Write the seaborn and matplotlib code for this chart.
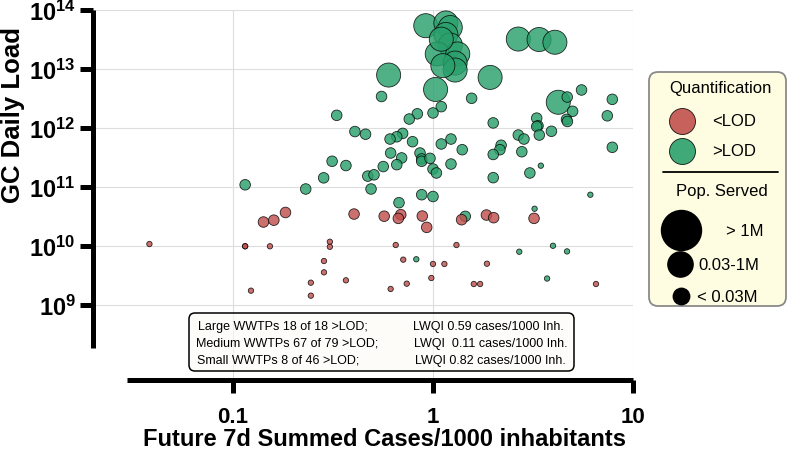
import numpy as np
import pandas as pd
import matplotlib
matplotlib.use("Agg")
import matplotlib.pyplot as plt
import seaborn as sns
from matplotlib.patches import FancyBboxPatch
from matplotlib.ticker import FixedLocator, FuncFormatter, NullLocator

# ---- data (cases/1000 inh., GC daily load) ----
large_x = [0.92, 1.16, 1.22, 1.16, 1.22, 1.05, 1.33, 1.29, 1.29, 0.60, 1.03, 1.93,
           2.67, 3.39, 4.07, 4.23, 1.12, 1.10]
large_y = [5.42e13, 6.03e13, 5.05e13, 3.85e13, 2.55e13, 1.80e13, 1.80e13, 1.26e13, 9.6e12,
           7.9e12, 4.5e12, 7.2e12, 3.22e13, 3.16e13, 2.84e13, 2.73e12, 1.14e13, 3.2e13]

med_green_x = [0.115, 0.553, 0.330, 0.407, 0.460, 0.313, 0.367, 0.284, 0.231, 0.472,
               0.507, 0.490, 0.564, 1.56, 1.10, 1.00, 0.835, 0.761, 2.00, 5.53,
               4.69, 4.99, 4.65, 4.70, 7.88, 7.44, 3.30, 3.35, 3.30, 3.91,
               3.40, 2.67, 2.85, 7.88, 2.19, 2.16, 2.00, 2.78, 3.05, 2.00,
               1.40, 1.23, 1.10, 1.23, 0.790, 0.705, 0.659, 0.610, 0.614, 0.697,
               0.659, 0.861, 0.878, 0.878, 0.966, 1.00, 1.04, 0.878, 1.00, 0.676,
               1.45]
med_green_y = [1.09e11, 3.42e12, 1.64e12, 8.7e11, 7.85e11, 2.73e11, 2.31e11, 1.43e11, 9.25e10, 1.53e11,
               1.61e11, 9.25e10, 2.22e11, 3.19e12, 2.30e12, 1.80e12, 1.74e12, 1.42e12, 1.22e12, 4.41e12,
               3.35e12, 1.92e12, 1.40e12, 1.29e12, 3.06e12, 1.61e12, 1.47e12, 1.09e12, 1.06e12, 8.8e11,
               7.6e11, 7.6e11, 6.5e11, 4.71e11, 5.1e11, 4.29e11, 3.56e11, 3.96e11, 1.73e11, 1.44e11,
               4.29e11, 6.5e11, 5.36e11, 2.45e11, 5.86e11, 8.1e11, 7.1e11, 6.5e11, 3.77e11, 3.11e11,
               2.39e11, 3.77e11, 2.99e11, 2.73e11, 3.06e11, 2.02e11, 1.73e11, 7.4e10, 6.9e10, 5.42e10,
               3.18e10]

med_red_x = [0.142, 0.160, 0.183, 0.403, 0.570, 0.690, 0.671, 0.884, 0.930, 1.39, 1.85, 2.01, 3.20]
med_red_y = [2.55e10, 2.74e10, 3.70e10, 3.48e10, 3.20e10, 3.40e10, 2.94e10, 3.22e10, 2.07e10,
             2.79e10, 3.35e10, 3.02e10, 2.94e10]

small_green_x = [3.46, 6.12, 3.22, 0.825, 2.70, 3.98, 4.68, 3.72]
small_green_y = [2.30e11, 7.4e10, 4.28e10, 5.96e9, 8.0e9, 1.01e10, 8.1e9, 2.81e9]

small_red_x = [0.0382, 0.115, 0.115, 0.153, 0.305, 0.305, 0.285, 0.285, 0.367, 0.245, 0.123, 0.245,
               0.651, 1.31, 0.710, 1.00, 1.14, 1.86, 0.981, 0.739, 0.614, 1.60, 1.72, 6.53]
small_red_y = [1.08e10, 9.9e9, 9.9e9, 9.9e9, 1.18e10, 9.7e9, 5.57e9, 3.58e9, 2.62e9, 2.39e9, 1.75e9, 1.44e9,
               1.04e10, 1.04e10, 5.87e9, 4.96e9, 4.96e9, 5.01e9, 2.87e9, 2.30e9, 1.87e9, 2.27e9, 2.27e9, 2.27e9]

box_left = ["Large WWTPs 18 of 18 >LOD;", "Medium WWTPs 67 of 79 >LOD;", "Small WWTPs 8 of 46 >LOD;"]
box_right = ["LWQI 0.59 cases/1000 Inh.", "LWQI  0.11 cases/1000 Inh.", "LWQI 0.82 cases/1000 Inh."]

RED = "#C0504D"
GREEN = "#2AA06C"


def part(xs, ys, quant, pop):
    return pd.DataFrame({"x": xs, "y": ys, "quant": quant, "pop": pop})


df = pd.concat([
    part(large_x, large_y, ">LOD", "large"),
    part(med_green_x, med_green_y, ">LOD", "medium"),
    part(med_red_x, med_red_y, "<LOD", "medium"),
    part(small_green_x, small_green_y, ">LOD", "small"),
    part(small_red_x, small_red_y, "<LOD", "small"),
], ignore_index=True)

sns.set_style("white")
plt.rcParams["font.family"] = ["Liberation Sans", "DejaVu Sans"]
plt.rcParams["mathtext.fontset"] = "custom"
plt.rcParams["mathtext.bf"] = "Liberation Sans:bold"
plt.rcParams["mathtext.rm"] = "Liberation Sans"
for key in ["text.color", "axes.labelcolor", "xtick.color", "ytick.color"]:
    plt.rcParams[key] = "black"

W, H = 790, 452
fig = plt.figure(figsize=(7.9, 4.52), dpi=100)


def px_axes(x0, y0, x1, y1):
    # axes rectangle given in pixel coords (top-left origin)
    return fig.add_axes([x0 / W, (H - y1) / H, (x1 - x0) / W, (y1 - y0) / H])


ax = px_axes(93, 11, 633, 381)
ax.set_xscale("log")
ax.set_yscale("log")

sns.scatterplot(data=df, x="x", y="y", hue="quant", size="pop",
                palette={"<LOD": RED, ">LOD": GREEN},
                sizes={"large": 300, "medium": 58, "small": 15},
                edgecolor="black", linewidth=0.6, alpha=0.82,
                legend=False, clip_on=False, zorder=3, ax=ax)

ax.set_xlim(10 ** -1.7, 10)
ax.set_ylim(10 ** 7.729, 1e14)

ax.xaxis.set_major_locator(FixedLocator([0.1, 1, 10]))
ax.xaxis.set_minor_locator(NullLocator())
ax.yaxis.set_major_locator(FixedLocator([1e9, 1e10, 1e11, 1e12, 1e13, 1e14]))
ax.yaxis.set_minor_locator(NullLocator())
ax.xaxis.set_major_formatter(FuncFormatter(lambda v, p: {0.1: "0.1", 1: "1", 10: "10"}.get(round(v, 3), "")))
ax.yaxis.set_major_formatter(FuncFormatter(lambda v, p: r"$\mathbf{10^{%d}}$" % int(round(np.log10(v)))))

ax.grid(True, color="#dddddd", linewidth=0.8)
ax.set_axisbelow(True)

for s in ["top", "right"]:
    ax.spines[s].set_visible(False)
for s in ["left", "bottom"]:
    ax.spines[s].set_linewidth(3.6)
    ax.spines[s].set_color("black")
    ax.spines[s].set_capstyle("butt")
ax.spines["left"].set_bounds(10 ** 8.271, 1e14)
ax.spines["bottom"].set_bounds(10 ** -1.53, 10)

ax.tick_params(axis="both", direction="out", length=9.5, width=3.6, color="black",
               bottom=True, left=True)
ax.tick_params(axis="x", labelsize=16, pad=9)
ax.tick_params(axis="y", labelsize=17, pad=3)
for lab in ax.get_xticklabels():
    lab.set_fontweight("bold")

ax.set_xlabel("Future 7d Summed Cases/1000 inhabitants", fontsize=17, fontweight="bold")
ax.set_ylabel("GC Daily Load", fontsize=18.5, fontweight="bold")
ax.xaxis.set_label_coords(0.539, -0.127)
ax.yaxis.set_label_coords(-0.125, 0.72)

# ---- summary box ----
tb = px_axes(188, 313, 575, 373)
tb.set_xlim(0, 387)
tb.set_ylim(60, 0)
tb.axis("off")
tb.add_patch(FancyBboxPatch((1, 1), 385, 58, boxstyle="round,pad=0,rounding_size=6",
                            facecolor=(0.99, 0.98, 0.96, 0.6), edgecolor="black", linewidth=1.1,
                            clip_on=False))
for i, (l, r) in enumerate(zip(box_left, box_right)):
    yy = 14 + 17 * i
    tb.text([10, 8, 9][i], yy, l, fontsize=9, va="center", ha="left")
    tb.text([225, 226, 227][i], yy, r, fontsize=9, va="center", ha="left")

# ---- legend panel ----
lg = px_axes(648, 72, 787, 308)
lg.set_xlim(0, 139)
lg.set_ylim(236, 0)
lg.axis("off")
lg.add_patch(FancyBboxPatch((1, 1), 137, 234, boxstyle="round,pad=0,rounding_size=9",
                            facecolor="#FEFCE1", edgecolor="#8a8a8a", linewidth=1.3, clip_on=False))
lg.text(72, 16, "Quantification", fontsize=12, ha="center", va="center")
lg.scatter([33.7], [49.7], s=350, color=RED, edgecolor="black", linewidth=0.6, alpha=0.9)
lg.scatter([33.7], [79.7], s=350, color=GREEN, edgecolor="black", linewidth=0.6, alpha=0.9)
lg.text(63.7, 49.7, "<LOD", fontsize=12, va="center", ha="left")
lg.text(63.7, 79.7, ">LOD", fontsize=12, va="center", ha="left")
lg.plot([15, 130], [101.3, 101.3], color="black", linewidth=1.3)
lg.text(73.7, 119.7, "Pop. Served", fontsize=12, ha="center", va="center")
lg.scatter([32.7], [159], s=830, color="black")
lg.scatter([32], [193], s=330, color="black")
lg.scatter([32.7], [224.7], s=140, color="black")
lg.text(115, 160, "> 1M", fontsize=12, va="center", ha="right")
lg.text(50.3, 194, "0.03-1M", fontsize=12, va="center", ha="left")
lg.text(48.7, 225, "< 0.03M", fontsize=12, va="center", ha="left")

fig.savefig("out.png", dpi=100)
